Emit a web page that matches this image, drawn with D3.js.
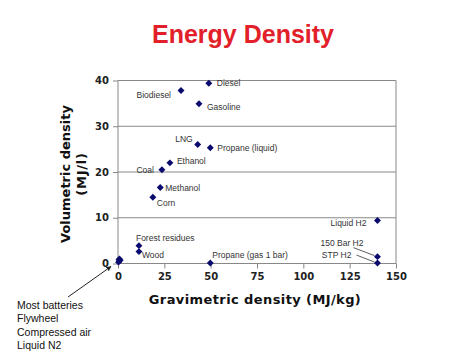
<!DOCTYPE html>
<html><head><meta charset="utf-8">
<script src="https://cdn.jsdelivr.net/npm/d3@7"></script>
<style>body{margin:0;background:#fff}svg{display:block}</style>
</head><body>
<svg id="c" width="474" height="356"></svg>
<script>
// ---- data ----
const names = ["Diesel","Biodiesel","Gasoline","LNG","Propane (liquid)","Ethanol","Coal","Methanol","Corn",
  "Forest residues","Wood","Propane (gas 1 bar)","Liquid H2","150 Bar H2","STP H2",
  "Most batteries","Flywheel","Compressed air","Liquid N2"];
const gravimetric = [49,34,43.7,43,49.8,28,23.7,22.8,18.8,11.3,11.3,49.8,140,140,140,0.5,0.3,0.8,1.2];
const volumetric  = [39.4,37.8,34.9,26,25.3,22,20.5,16.6,14.5,3.9,2.6,0.1,9.4,1.5,0.1,0.8,0.3,1.0,0.7];
const xTicks = [0,25,50,75,100,125,150];
const yTicks = [0,10,20,30,40];
const noteLines = ["Most batteries","Flywheel","Compressed air","Liquid N2"];

// ---- label placement (layout) ----
const labelPlace = {
  "Diesel":[ "start",8,3], "Biodiesel":["end",-10,7], "Gasoline":["start",8,6],
  "LNG":["end",-5,-3], "Propane (liquid)":["start",7,3], "Ethanol":["start",7,1],
  "Coal":["end",-8,3], "Methanol":["start",5,3], "Corn":["start",4,9],
  "Forest residues":["start",-3,-5], "Wood":["start",3,6], "Propane (gas 1 bar)":["start",2,-5],
  "Liquid H2":["end",-11,6], "150 Bar H2":["end",-14,-11], "STP H2":["end",-26,-5]
};
const leaders = {"150 Bar H2":[-24,-9,-3,-1], "STP H2":[-21,-8,-3,-1]};

const svg = d3.select("#c");
const x = d3.scaleLinear().domain([0,150]).range([118,396]);
const y = d3.scaleLinear().domain([0,40]).range([263.5,80.5]);

// title
svg.append("text").attr("x",243).attr("y",43).attr("text-anchor","middle")
  .attr("font-family","Liberation Sans, Arial, sans-serif").attr("font-weight","bold")
  .attr("font-size",25).attr("fill","#e2202a").text("Energy Density");

// grid
svg.append("g").selectAll("line").data(yTicks.filter(d=>d>0)).join("line")
  .attr("x1",x(0)).attr("x2",x(150)).attr("y1",d=>y(d)).attr("y2",d=>y(d))
  .attr("stroke","#888").attr("stroke-width",1);
svg.append("line").attr("x1",x(150)).attr("x2",x(150)).attr("y1",y(40)).attr("y2",y(0))
  .attr("stroke","#888");

// axes
const tickFont = g => g.selectAll("text").attr("font-family","DejaVu Sans, Verdana, sans-serif")
  .attr("font-weight","bold").attr("font-size",10).attr("fill","#222");
const gx = svg.append("g").attr("transform",`translate(0,${y(0)})`)
  .call(d3.axisBottom(x).tickValues(xTicks).tickSize(5).tickPadding(4).tickFormat(d3.format("d")));
gx.selectAll("path,line").attr("stroke","#888");
gx.call(tickFont);
const gy = svg.append("g").attr("transform",`translate(${x(0)},0)`)
  .call(d3.axisLeft(y).tickValues(yTicks).tickSize(5).tickPadding(4).tickFormat(d3.format("d")));
gy.selectAll("path,line").attr("stroke","#888");
gy.call(tickFont);
gx.select(".domain").attr("d",`M${x(0)},0H${x(150)}`);
gy.select(".domain").attr("d",`M0,${y(40)}V${y(0)}`);

// axis titles
svg.append("text").attr("x",255).attr("y",304).attr("text-anchor","middle")
  .attr("font-family","DejaVu Sans, Verdana, sans-serif").attr("font-weight","bold")
  .attr("font-size",13).attr("letter-spacing",0.4).attr("fill","#111").text("Gravimetric density (MJ/kg)");
const yt = svg.append("text").attr("transform","translate(70,174) rotate(-90)")
  .attr("text-anchor","middle").attr("font-family","DejaVu Sans, Verdana, sans-serif")
  .attr("font-weight","bold").attr("font-size",13).attr("fill","#111");
yt.append("tspan").attr("x",0).attr("dy",0).text("Volumetric density");
yt.append("tspan").attr("x",0).attr("dy",16).attr("letter-spacing",0.8).text("(MJ/l)");

// points
const data = names.map((n,i)=>({n,gx:gravimetric[i],vy:volumetric[i]}));
svg.append("g").selectAll("path").data(data).join("path")
  .attr("d", d3.symbol(d3.symbolSquare, 24))
  .attr("transform",d=>`translate(${x(d.gx)},${y(d.vy)}) rotate(45)`)
  .attr("fill","#0a0a6e");

// labels
const lab = data.filter(d=>labelPlace[d.n]);
svg.append("g").selectAll("text").data(lab).join("text")
  .attr("x",d=>x(d.gx)+labelPlace[d.n][1]).attr("y",d=>y(d.vy)+labelPlace[d.n][2])
  .attr("text-anchor",d=>labelPlace[d.n][0])
  .attr("font-family","Liberation Sans, Arial, sans-serif").attr("font-size",8.5).attr("fill","#333")
  .text(d=>d.n);
svg.append("g").selectAll("line").data(data.filter(d=>leaders[d.n])).join("line")
  .attr("x1",d=>x(d.gx)+leaders[d.n][0]).attr("y1",d=>y(d.vy)+leaders[d.n][1])
  .attr("x2",d=>x(d.gx)+leaders[d.n][2]).attr("y2",d=>y(d.vy)+leaders[d.n][3])
  .attr("stroke","#333").attr("stroke-width",0.8);

// note with arrow
svg.append("defs").append("marker").attr("id","ah").attr("viewBox","0 0 10 10")
  .attr("refX",9).attr("refY",5).attr("markerWidth",5).attr("markerHeight",5).attr("orient","auto")
  .append("path").attr("d","M0,0L10,5L0,10z").attr("fill","#222");
svg.append("line").attr("x1",68).attr("y1",297).attr("x2",x(0)-7).attr("y2",y(0)+3)
  .attr("stroke","#222").attr("stroke-width",1).attr("marker-end","url(#ah)");
svg.append("g").selectAll("text").data(noteLines).join("text")
  .attr("x",17).attr("y",(d,i)=>309+i*13.3)
  .attr("font-family","Liberation Sans, Arial, sans-serif").attr("font-size",10.5).attr("fill","#111")
  .text(d=>d);
</script>
</body></html>
